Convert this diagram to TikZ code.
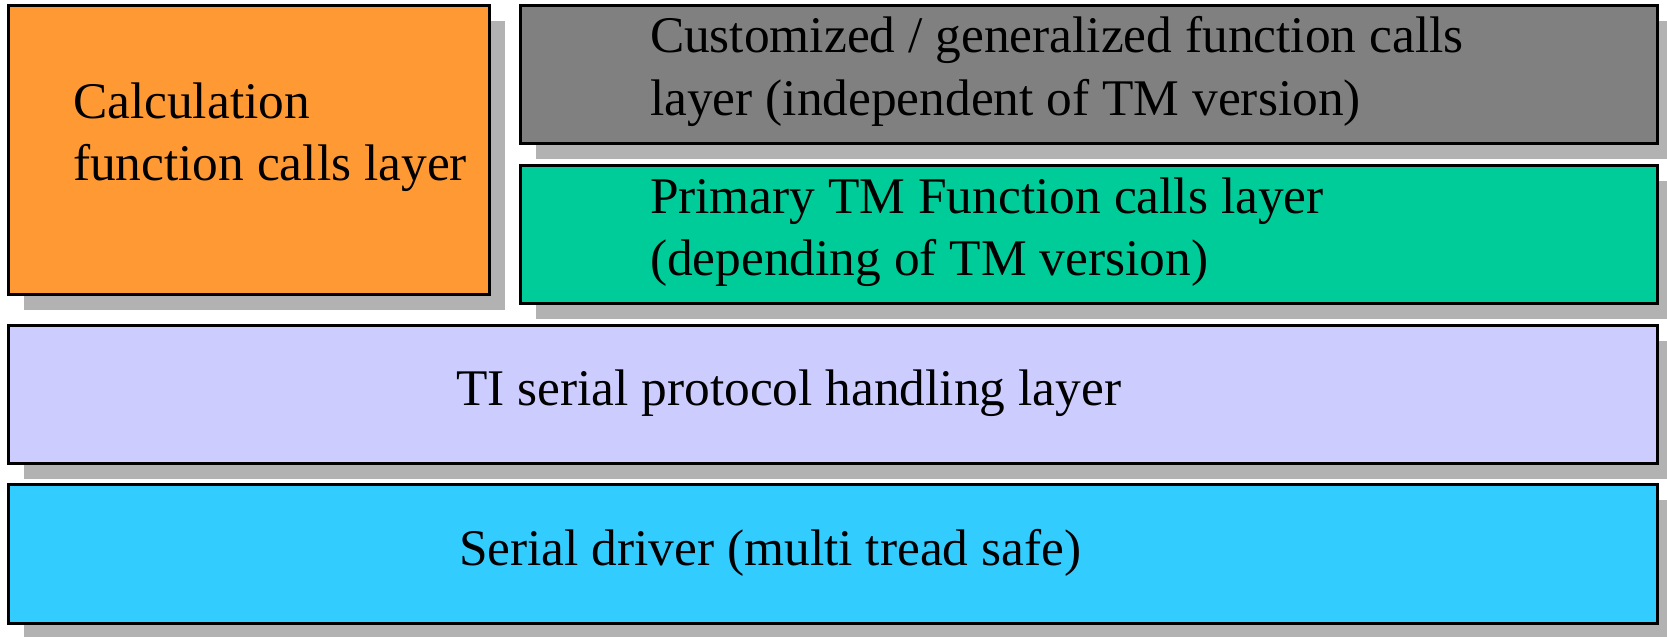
\documentclass[tikz,border=0pt]{standalone}
\usepackage{fontspec}
\setmainfont{Liberation Serif}
\definecolor{cOrange}{HTML}{FF9933}
\definecolor{cGray}{HTML}{808080}
\definecolor{cGreen}{HTML}{00CC99}
\definecolor{cLav}{HTML}{CCCCFF}
\definecolor{cBlue}{HTML}{33CCFF}
\definecolor{cShadow}{HTML}{B2B2B2}
\begin{document}
\begin{tikzpicture}[x=0.5pt,y=-0.5pt,
  layerbox/.style={draw=black, line width=1.5pt, rectangle, inner sep=0pt, outer sep=0pt, anchor=north west},
  shadowfill/.style={fill=cShadow, draw=none},
  lbl/.style={anchor=base west, inner sep=0pt, outer sep=0pt, font=\fontsize{25.7}{31}\selectfont, align=left}]
\useasboundingbox (0,0) rectangle (1667,637);
% shadows
\fill[shadowfill] (24,21) rectangle (505,310);
\fill[shadowfill] (536,21) rectangle (1673,159);
\fill[shadowfill] (536,181) rectangle (1673,319);
\fill[shadowfill] (24,341) rectangle (1673,479);
\fill[shadowfill] (24,500) rectangle (1673,639);
% boxes
\node[layerbox, fill=cOrange, minimum width=240.5pt, minimum height=144.5pt] (calc) at (8,5) {};
\node[layerbox, fill=cGray, minimum width=568.5pt, minimum height=69pt] (cust) at (520,5) {};
\node[layerbox, fill=cGreen, minimum width=568.5pt, minimum height=69pt] (prim) at (520,165) {};
\node[layerbox, fill=cLav, minimum width=824.5pt, minimum height=69pt] (ti) at (8,325) {};
\node[layerbox, fill=cBlue, minimum width=824.5pt, minimum height=69.5pt] (ser) at (8,484) {};
% texts
\node[lbl] (calcT1) at (73,118) {Calculation};
\node[lbl] (calcT2) at (73,180) {function calls layer};
\node[lbl] (custT1) at (650,53) {Customized / generalized function calls};
\node[lbl] (custT2) at (650,115) {layer (independent of TM version)};
\node[lbl] (primT1) at (650,213) {Primary TM Function calls layer};
\node[lbl] (primT2) at (650,275) {(depending of TM version)};
\node[lbl] (tiT) at (456,405) {TI serial protocol handling layer};
\node[lbl] (serT) at (459,565) {Serial driver (multi tread safe)};
\end{tikzpicture}
\end{document}
